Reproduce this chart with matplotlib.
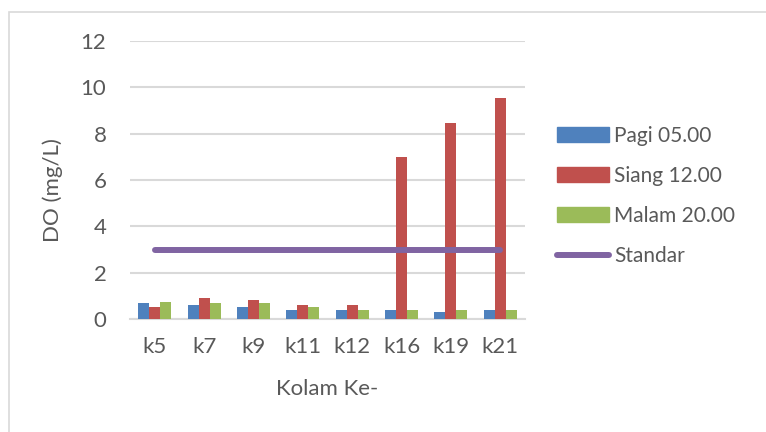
import numpy as np
import matplotlib.pyplot as plt
from matplotlib.patches import Patch, Rectangle
from matplotlib.lines import Line2D

plt.rcParams['font.family'] = ['Lato', 'DejaVu Sans']

# data per kolam
kolam = ['k5', 'k7', 'k9', 'k11', 'k12', 'k16', 'k19', 'k21']
pagi = [0.7, 0.6, 0.5, 0.4, 0.4, 0.4, 0.3, 0.4]
siang = [0.5, 0.9, 0.8, 0.6, 0.6, 7.0, 8.45, 9.55]
malam = [0.75, 0.7, 0.7, 0.5, 0.4, 0.4, 0.4, 0.4]
standar = [3, 3, 3, 3, 3, 3, 3, 3]

series = [('Pagi 05.00', pagi, '#4F81BD'),
          ('Siang 12.00', siang, '#C0504D'),
          ('Malam 20.00', malam, '#9BBB59')]

txt = '#595959'
grid = '#D9D9D9'
fs = 16

fig = plt.figure(figsize=(7.66, 4.32), dpi=100)
fig.patches.append(Rectangle((9 / 766, -0.1), 1.2, 1 - 12 / 432 + 0.1,
                             transform=fig.transFigure, fill=False,
                             edgecolor=grid, linewidth=1.2))
ax = fig.add_axes([130 / 766, 1 - 319 / 432, 395 / 766, 278 / 432])

x = np.arange(len(kolam))
w = 0.222
for i, (name, vals, col) in enumerate(series):
    ax.bar(x + (i - 1) * w, vals, w, color=col, label=name, zorder=3)
ax.plot(x, standar, color='#8064A2', linewidth=4.3, solid_capstyle='round',
        label='Standar', zorder=4)

ax.set_xlim(-0.5, len(kolam) - 0.5)
ax.set_ylim(0, 12)
ax.set_yticks(np.arange(0, 13, 2))
ax.set_xticks(x)
ax.set_xticklabels(kolam)
ax.yaxis.grid(True, color=grid, linewidth=1.5, zorder=0)
ax.set_axisbelow(True)
for s in ['top', 'right', 'left']:
    ax.spines[s].set_visible(False)
ax.spines['bottom'].set_color(grid)
ax.spines['bottom'].set_linewidth(1.5)
ax.tick_params(length=0, labelsize=fs, colors=txt)
ax.tick_params(axis='y', pad=17)
ax.tick_params(axis='x', pad=13)
ax.set_ylabel('DO (mg/L)', fontsize=fs, color=txt)
ax.yaxis.set_label_coords(-0.17, 0.465)
ax.set_xlabel('Kolam Ke-', fontsize=fs, color=txt, labelpad=16)

handles = [Patch(color=c) for _, _, c in series]
handles.append(Line2D([], [], color='#8064A2', linewidth=4.3, solid_capstyle='round'))
labels = [s[0] for s in series] + ['Standar']
fig.legend(handles, labels, loc='upper left', bbox_to_anchor=(538 / 766, 1 - 107 / 432),
           frameon=False, fontsize=15, labelcolor=txt, handlelength=2.5,
           handleheight=0.67, handletextpad=0.25, labelspacing=0.96)

fig.savefig('out.png', dpi=100)
